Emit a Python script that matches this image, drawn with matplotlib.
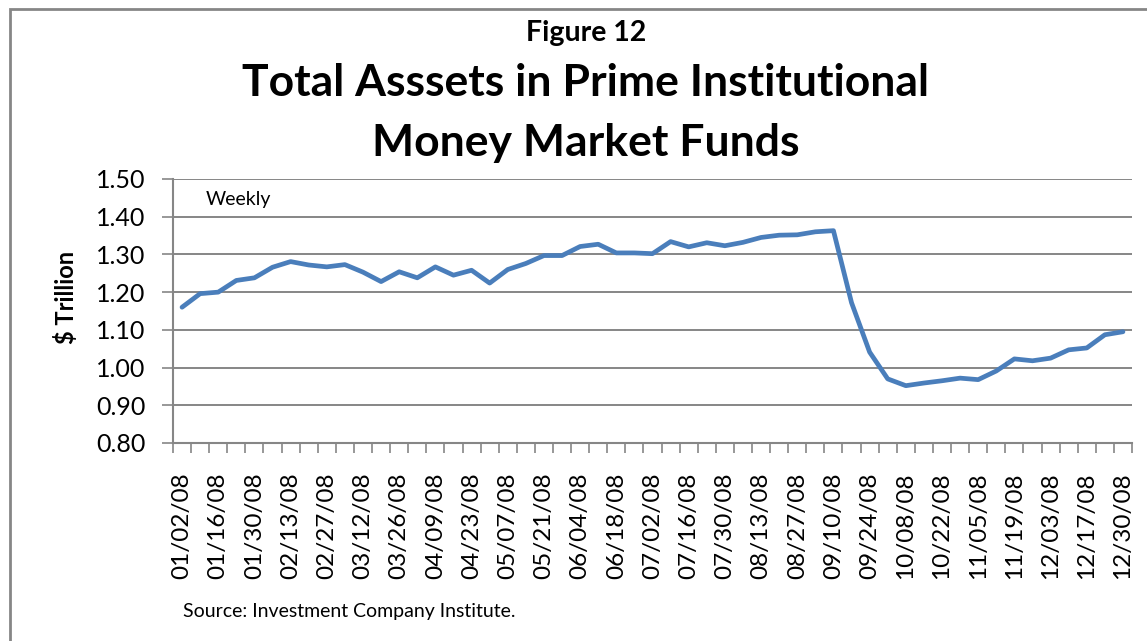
import matplotlib
matplotlib.use("Agg")
import matplotlib.pyplot as plt
from matplotlib.patches import Rectangle

plt.rcParams['font.family'] = ['Lato', 'DejaVu Sans']

# Weekly total assets ($ trillion), 01/02/08 .. 12/30/08
values = [1.160, 1.196, 1.200, 1.231, 1.238, 1.266, 1.281, 1.272, 1.267, 1.273,
          1.253, 1.228, 1.254, 1.238, 1.267, 1.245, 1.258, 1.224, 1.260, 1.276,
          1.297, 1.297, 1.321, 1.327, 1.304, 1.304, 1.302, 1.334, 1.320, 1.331,
          1.323, 1.332, 1.345, 1.351, 1.352, 1.360, 1.363, 1.172, 1.041, 0.970,
          0.952, 0.959, 0.965, 0.972, 0.968, 0.991, 1.023, 1.018, 1.025, 1.047,
          1.052, 1.087, 1.095]

tick_labels = ["01/02/08", "01/16/08", "01/30/08", "02/13/08", "02/27/08", "03/12/08",
               "03/26/08", "04/09/08", "04/23/08", "05/07/08", "05/21/08", "06/04/08",
               "06/18/08", "07/02/08", "07/16/08", "07/30/08", "08/13/08", "08/27/08",
               "09/10/08", "09/24/08", "10/08/08", "10/22/08", "11/05/08", "11/19/08",
               "12/03/08", "12/17/08", "12/30/08"]

y_ticks = [0.80, 0.90, 1.00, 1.10, 1.20, 1.30, 1.40, 1.50]

W, H = 1147, 641
fig = plt.figure(figsize=(W / 100, H / 100), dpi=100)

def fx(px):
    return px / W

def fy(py):
    return 1 - py / H

# outer border
fig.patches.append(Rectangle((fx(10), fy(700)), fx(1200), (700 - 9) / H,
                             transform=fig.transFigure, fill=False,
                             edgecolor='#868686', linewidth=2))

ax = fig.add_axes([fx(173), fy(443), fx(1132 - 173), (443 - 179) / H])

n = len(values)
xs = list(range(n))
ax.plot(xs, values, color='#4A7EBB', linewidth=3.4, solid_joinstyle='round',
        solid_capstyle='round', zorder=3)

ax.set_xlim(-0.5, n - 0.5)
ax.set_ylim(0.80, 1.50)
ax.set_yticks(y_ticks)
ax.set_yticklabels([f"{v:.2f}" for v in y_ticks])
ax.yaxis.grid(True, color='#868686', linewidth=1.4)
ax.set_axisbelow(True)

# tick marks between categories, labels at every other category
ax.set_xticks([i - 0.5 for i in range(n + 1)])
ax.set_xticklabels([])
ax.set_xticks(list(range(0, n, 2)), minor=True)
ax.set_xticklabels(tick_labels, minor=True, rotation=90, fontsize=17.5)
ax.tick_params(axis='x', which='major', length=7, width=1.2, color='#868686', direction='out')
ax.tick_params(axis='x', which='minor', length=0, pad=21.5)
ax.tick_params(axis='y', length=8, width=1.2, color='#868686', labelsize=18, pad=12)

for s in ['top', 'right']:
    ax.spines[s].set_visible(False)
for s in ['left', 'bottom']:
    ax.spines[s].set_color('#868686')
    ax.spines[s].set_linewidth(1.5)

fig.text(fx(206), fy(200), 'Weekly', fontsize=14, ha='left', va='center')
fig.text(fx(183), fy(611), 'Source: Investment Company Institute.', fontsize=14,
         ha='left', va='center')
fig.text(fx(66), fy(297), '$ Trillion', fontsize=17, fontweight='bold',
         rotation=90, ha='center', va='center')

fig.text(fx(586), fy(33), 'Figure 12', fontsize=20.5, fontweight='bold', ha='center', va='center')
fig.text(fx(586), fy(83), 'Total Asssets in Prime Institutional', fontsize=32,
         fontweight='bold', ha='center', va='center')
fig.text(fx(586), fy(143), 'Money Market Funds', fontsize=32,
         fontweight='bold', ha='center', va='center')

fig.savefig('out.png', dpi=100)
